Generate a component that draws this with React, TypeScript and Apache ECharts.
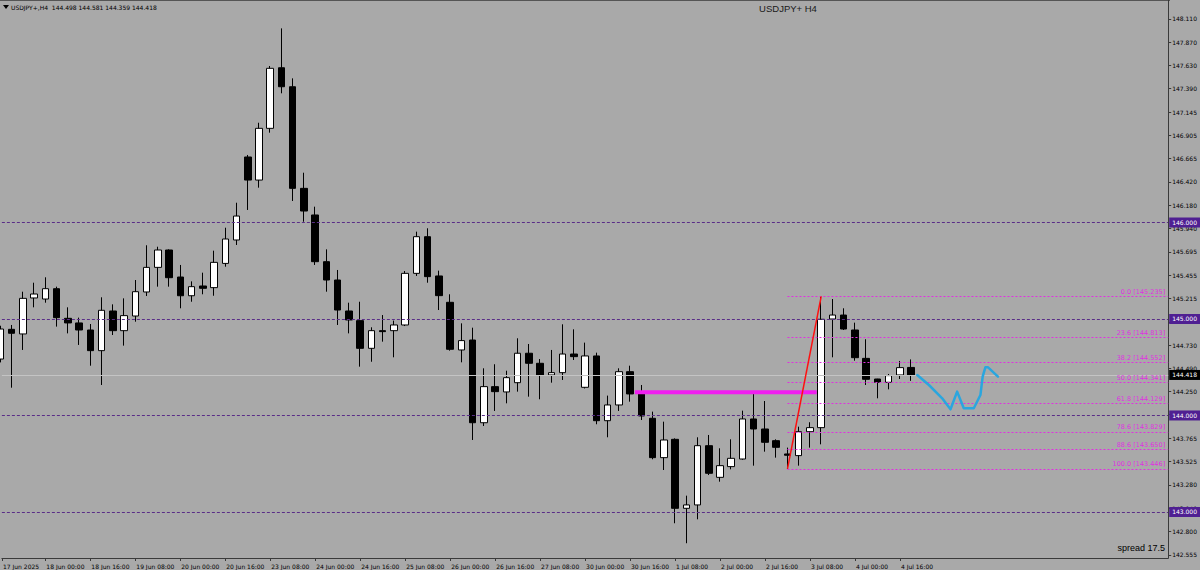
import { useEffect, useRef } from "react";
import * as echarts from "echarts";

// H4 candles, rows: [open, high, low, close]
const candles: number[][] = [
  [144.585, 144.93, 144.55, 144.896],
  [144.893, 144.938, 144.288, 144.852],
  [144.845, 145.283, 144.679, 145.214],
  [145.218, 145.376, 145.121, 145.259],
  [145.207, 145.432, 145.169, 145.314],
  [145.314, 145.335, 144.921, 145.014],
  [145.007, 145.121, 144.851, 144.959],
  [144.959, 145.014, 144.731, 144.886],
  [144.886, 144.948, 144.516, 144.672],
  [144.672, 145.225, 144.316, 145.09],
  [145.083, 145.152, 144.834, 144.879],
  [144.879, 145.214, 144.724, 145.035],
  [145.031, 145.404, 144.972, 145.283],
  [145.28, 145.764, 145.238, 145.535],
  [145.535, 145.749, 145.335, 145.715],
  [145.715, 145.722, 145.335, 145.428],
  [145.435, 145.56, 145.111, 145.241],
  [145.241, 145.39, 145.179, 145.335],
  [145.342, 145.48, 145.256, 145.318],
  [145.325, 145.708, 145.241, 145.587],
  [145.576, 145.946, 145.542, 145.829],
  [145.819, 146.205, 145.767, 146.067],
  [146.679, 146.7, 146.13, 146.44],
  [146.44, 147.034, 146.361, 146.976],
  [146.976, 147.622, 146.931, 147.598],
  [147.604, 148.012, 147.339, 147.407],
  [147.407, 147.494, 146.223, 146.354],
  [146.354, 146.516, 146.008, 146.119],
  [146.078, 146.164, 145.56, 145.594],
  [145.594, 145.722, 145.283, 145.404],
  [145.404, 145.508, 144.938, 145.093],
  [145.083, 145.169, 144.851, 144.99],
  [144.983, 145.179, 144.506, 144.696],
  [144.696, 144.914, 144.557, 144.879],
  [144.879, 145.041, 144.765, 144.869],
  [144.879, 144.983, 144.603, 144.938],
  [144.938, 145.497, 144.927, 145.473],
  [145.473, 145.905, 145.446, 145.853],
  [145.853, 145.94, 145.376, 145.439],
  [145.446, 145.501, 145.093, 145.242],
  [145.173, 145.256, 144.672, 144.686],
  [144.679, 144.955, 144.551, 144.776],
  [144.782, 144.91, 143.746, 143.925],
  [143.925, 144.489, 143.891, 144.299],
  [144.299, 144.531, 144.047, 144.247],
  [144.244, 144.464, 144.126, 144.392],
  [144.34, 144.8, 144.247, 144.645],
  [144.645, 144.741, 144.195, 144.541],
  [144.541, 144.585, 144.168, 144.42],
  [144.42, 144.679, 144.34, 144.444],
  [144.444, 144.945, 144.368, 144.637],
  [144.637, 144.893, 144.575, 144.61],
  [144.292, 144.755, 144.28, 144.617],
  [144.617, 144.651, 143.909, 143.946],
  [143.946, 144.206, 143.774, 144.109],
  [144.109, 144.489, 144.047, 144.454],
  [144.454, 144.516, 144.143, 144.223],
  [144.223, 144.316, 143.953, 143.995],
  [143.971, 144.04, 143.546, 143.563],
  [143.563, 143.936, 143.435, 143.746],
  [143.753, 143.763, 142.883, 143.038],
  [143.038, 143.169, 142.676, 143.073],
  [143.073, 143.774, 142.924, 143.687],
  [143.687, 143.798, 143.383, 143.401],
  [143.359, 143.66, 143.314, 143.48],
  [143.47, 143.753, 143.442, 143.556],
  [143.549, 144.05, 143.542, 143.964],
  [143.964, 144.23, 143.48, 143.86],
  [143.86, 144.15, 143.625, 143.722],
  [143.739, 143.753, 143.563, 143.67],
  [143.601, 143.667, 143.446, 143.588],
  [143.584, 143.884, 143.48, 143.832],
  [143.832, 143.93, 143.667, 143.874],
  [143.874, 145.235, 143.701, 144.997],
  [145.0, 145.207, 144.603, 145.041],
  [145.041, 145.111, 144.886, 144.896],
  [144.886, 144.962, 144.568, 144.599],
  [144.592, 144.79, 144.316, 144.375],
  [144.378, 144.38, 144.178, 144.344],
  [144.344, 144.43, 144.271, 144.413],
  [144.42, 144.565, 144.378, 144.496],
  [144.498, 144.581, 144.359, 144.418],
];

const xLabels = [
  "17 Jun 2025", "18 Jun 00:00", "18 Jun 16:00", "19 Jun 08:00", "20 Jun 00:00",
  "20 Jun 16:00", "23 Jun 08:00", "24 Jun 00:00", "24 Jun 16:00", "25 Jun 08:00",
  "26 Jun 00:00", "26 Jun 16:00", "27 Jun 08:00", "30 Jun 00:00", "30 Jun 16:00",
  "1 Jul 08:00", "2 Jul 00:00", "2 Jul 16:00", "3 Jul 08:00", "4 Jul 00:00", "4 Jul 16:00",
];
const barsPerLabel = 4;

const yTicks = [
  148.11, 147.87, 147.63, 147.39, 147.145, 146.905, 146.665, 146.42, 146.18, 145.94,
  145.695, 145.455, 145.215, 144.97, 144.73, 144.49, 144.25, 144.01, 143.765, 143.525,
  143.28, 143.04, 142.8, 142.555,
];

const roundLevels = [146, 145, 144, 143];
const bidPrice = 144.418;

const fibRatios = ["0.0", "23.6", "38.2", "50.0", "61.8", "78.6", "88.6", "100.0"];
const fibPrices = [145.235, 144.813, 144.552, 144.341, 144.129, 143.829, 143.65, 143.446];
const fibStartBar = 70;

const swingLine = [[70, 143.446], [73, 145.235]];
const zoneLine = [[56.43, 144.24], [72.6, 144.24]];
const forecastPath = [
  [81.54, 144.42], [82.58, 144.316], [83.76, 144.178], [84.5, 144.064], [85.09, 144.247],
  [85.68, 144.075], [86.57, 144.075], [87.16, 144.212], [87.36, 144.402], [87.6, 144.499],
  [87.84, 144.499], [88.72, 144.402],
];

const headerText = "USDJPY+,H4  144.498 144.581 144.359 144.418";
const titleText = "USDJPY+ H4";
const spreadText = "spread 17.5";

const X_MIN = 0.133;
const X_MAX = 103.86;
const Y_MIN = 142.523;
const Y_MAX = 148.306;

const FONT = "DejaVu Sans";
const BG = "#a9a9a9";
const AXIS = "#3a3a3a";
const LEVEL = "#5a2d88";
const FIB = "#e030e0";

export default function App() {
  const ref = useRef<HTMLDivElement>(null);
  useEffect(() => {
    const chart = echarts.init(ref.current!, null, { renderer: "svg" });
    const tickIdx = xLabels.map((_, i) => Math.max(i * barsPerLabel, X_MIN + 0.01));

    const markData: any[] = [];
    roundLevels.forEach((v) => {
      markData.push({
        yAxis: v,
        lineStyle: { color: LEVEL, type: [3, 2], width: 1 },
        label: {
          show: true,
          position: "end",
          formatter: v.toFixed(3),
          backgroundColor: "#4f1f92",
          color: "#ffffff",
          fontSize: 6,
          fontFamily: FONT,
          padding: [2, 3, 2, 3],
          distance: 1,
        },
      });
    });
    markData.push({
      yAxis: bidPrice,
      lineStyle: { color: "#c4c4c4", type: "solid", width: 1 },
      label: {
        show: true,
        position: "end",
        formatter: bidPrice.toFixed(3),
        backgroundColor: "#000000",
        color: "#ffffff",
        fontSize: 6,
        fontFamily: FONT,
        padding: [2, 3, 2, 3],
        distance: 1,
      },
    });
    fibPrices.forEach((p, i) => {
      markData.push([
        {
          coord: [fibStartBar, p],
          lineStyle: { color: FIB, type: [2, 2], width: 1 },
          label: {
            show: true,
            position: "insideEndTop",
            formatter: `${fibRatios[i]} [${p.toFixed(3)}]`,
            color: FIB,
            fontSize: 6.5,
            fontFamily: FONT,
            distance: [3, 1],
          },
        },
        { coord: [X_MAX, p] },
      ]);
    });

    const option: any = {
      animation: false,
      backgroundColor: BG,
      grid: { left: 0, top: 0, width: 1170, height: 558, show: false },
      xAxis: {
        type: "value",
        min: X_MIN,
        max: X_MAX,
        splitLine: { show: false },
        axisLine: { show: true, lineStyle: { color: AXIS, width: 1 } },
        axisTick: { show: true, customValues: tickIdx, length: 3, lineStyle: { color: AXIS } },
        axisLabel: {
          customValues: tickIdx,
          formatter: (v: number) => xLabels[Math.round(v / barsPerLabel)] ?? "",
          align: "left",
          fontSize: 6,
          fontFamily: FONT,
          color: "#000",
          margin: 5,
          padding: [0, 0, 0, 1],
          showMinLabel: true,
        },
      },
      yAxis: {
        type: "value",
        position: "right",
        min: Y_MIN,
        max: Y_MAX,
        scale: true,
        splitLine: { show: false },
        axisLine: { show: true, lineStyle: { color: AXIS, width: 1 } },
        axisTick: { show: true, customValues: yTicks, length: 3, lineStyle: { color: AXIS } },
        axisLabel: {
          customValues: yTicks,
          formatter: (v: number) => v.toFixed(3),
          fontSize: 6,
          fontFamily: FONT,
          color: "#000",
          margin: 4,
        },
      },
      series: [
        {
          type: "candlestick",
          data: candles.map((c, i) => [i, c[0], c[3], c[2], c[1]]),
          encode: { x: 0, y: [1, 2, 3, 4] },
          barWidth: 7,
          itemStyle: {
            color: "#ffffff",
            color0: "#000000",
            borderColor: "#000000",
            borderColor0: "#000000",
            borderWidth: 1,
          },
          markLine: {
            silent: true,
            symbol: ["none", "none"],
            animation: false,
            data: markData,
          },
          z: 3,
        },
        {
          type: "line",
          data: zoneLine,
          showSymbol: false,
          symbol: "none",
          lineStyle: { color: "#f01ef0", width: 4 },
          z: 4,
        },
        {
          type: "line",
          data: swingLine,
          showSymbol: false,
          symbol: "none",
          lineStyle: { color: "#ff1010", width: 1.5 },
          z: 5,
        },
        {
          type: "line",
          data: forecastPath,
          showSymbol: false,
          symbol: "none",
          lineStyle: { color: "#2aa6de", width: 2.5, cap: "round", join: "round" },
          z: 5,
        },
      ],
      graphic: [
        { type: "line", shape: { x1: 0, y1: 0.5, x2: 1170, y2: 0.5 }, style: { stroke: "#555", lineWidth: 1 } },
        { type: "polygon", shape: { points: [[3, 5], [9, 5], [6, 9]] }, style: { fill: "#000" } },
        {
          type: "text",
          x: 11,
          y: 7,
          style: { text: headerText, fontSize: 6, fontFamily: FONT, fill: "#000", verticalAlign: "middle" },
        },
        {
          type: "text",
          x: 788,
          y: 8,
          style: {
            text: titleText,
            fontSize: 9.5,
            fontFamily: "Liberation Sans",
            fill: "#1a1a1a",
            align: "center",
            verticalAlign: "middle",
          },
        },
        {
          type: "text",
          x: 1165,
          y: 548,
          style: {
            text: spreadText,
            fontSize: 9,
            fontFamily: "Liberation Sans",
            fill: "#000",
            align: "right",
            verticalAlign: "middle",
          },
        },
      ],
    };
    chart.setOption(option);
    return () => chart.dispose();
  }, []);
  return (
    <div
      ref={ref}
      style={{ position: "fixed", left: 0, top: 0, width: 1200, height: 570, background: BG }}
    />
  );
}
